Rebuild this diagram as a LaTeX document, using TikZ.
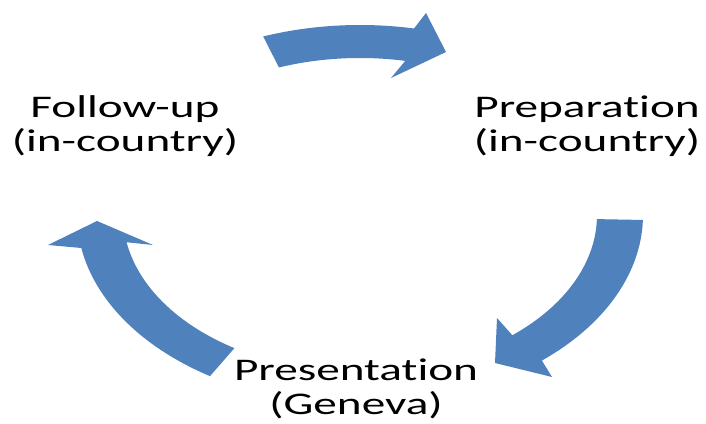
\documentclass[tikz,border=0pt]{standalone}
\usepackage{fontspec}
\setmainfont{Carlito}[FakeStretch=1.5, Ligatures=NoCommon]
\usetikzlibrary{positioning}
\definecolor{flowblue}{RGB}{79,129,189}

\begin{document}
\begin{tikzpicture}[
        x=1pt, y=1pt,
        stage/.style={align=center, inner sep=0pt, font=\fontsize{31.5}{34}\selectfont},
        flow/.style={fill=flowblue, draw=none}
    ]
    \useasboundingbox (0,0) rectangle (706,423);

    % Stages
    \node[stage] (prep) at (587,297) {Preparation\\(in-country)};
    \node[stage] (pres) at (356,34) {Presentation\\(Geneva)};
    \node[stage] (follow) at (125,297) {Follow-up\\(in-country)};

    % Cycle arrows (ring: centre (360,208), outer 283x190, inner 237x157)
    % follow -> prep
    \fill[flow] ({360+283*cos(110)},{208+190*sin(110)})
        arc[start angle=110, end angle=79, x radius=283pt, y radius=190pt]
        -- (426,410) -- (446,371) -- (391,345)
        -- ({360+237*cos(79)},{208+157*sin(79)})
        arc[start angle=79, end angle=110, x radius=237pt, y radius=157pt] -- cycle;

    % prep -> pres
    \fill[flow] ({360+283*cos(-1.5)},{208+190*sin(-1.5)})
        arc[start angle=-1.5, end angle=-50, x radius=283pt, y radius=190pt]
        -- (552,46) -- (495,60) -- (497,105)
        -- ({360+237*cos(-50)},{208+157*sin(-50)})
        arc[start angle=-50, end angle=-1.5, x radius=237pt, y radius=157pt] -- cycle;

    % pres -> follow
    \fill[flow] ({360+283*cos(238)},{208+190*sin(238)})
        arc[start angle=238, end angle=190, x radius=283pt, y radius=190pt]
        -- (48,178) -- (97,202) -- (153,178)
        -- ({360+237*cos(190)},{208+157*sin(190)})
        arc[start angle=190, end angle=238, x radius=237pt, y radius=157pt] -- cycle;

\end{tikzpicture}
\end{document}
